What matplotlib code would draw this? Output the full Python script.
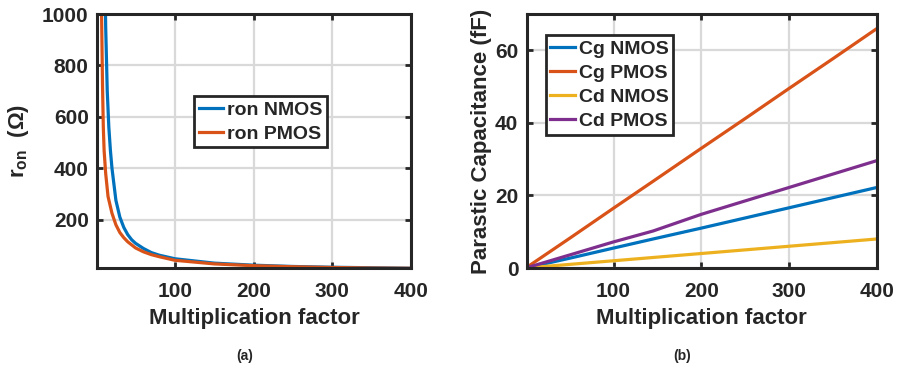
import numpy as np
import matplotlib
matplotlib.use('Agg')
import matplotlib.pyplot as plt

plt.rcParams['font.family'] = ['Liberation Sans', 'DejaVu Sans']
plt.rcParams['font.weight'] = 'bold'
plt.rcParams['mathtext.fontset'] = 'custom'
plt.rcParams['mathtext.rm'] = 'Liberation Sans:bold'
plt.rcParams['mathtext.bf'] = 'Liberation Sans:bold'
plt.rcParams['mathtext.it'] = 'Liberation Serif:italic'

# (a) on-resistance vs multiplication factor
m_nmos = [10, 12, 14, 16, 18, 20, 25, 30, 35, 40, 45, 50, 60, 70, 80, 100, 150, 200, 250, 300, 350, 400]
ron_nmos = [1400, 950, 700, 560, 470, 400, 275, 210, 170, 142, 122, 108, 88, 72, 62, 48, 31, 23, 18, 15, 13, 11]
m_pmos = [5, 7, 8, 9, 10, 12, 15, 20, 25, 30, 35, 40, 50, 60, 70, 80, 100, 150, 200, 250, 300, 350, 400]
ron_pmos = [1400, 950, 720, 560, 470, 380, 290, 225, 180, 150, 130, 114, 90, 75, 64, 56, 42, 28, 21, 17, 14, 12, 11]

# (b) parasitic capacitance vs multiplication factor
m_cap = [1, 50, 100, 145, 200, 250, 300, 350, 400]
cg_nmos = [0.05, 2.7, 5.5, 8.0, 11.0, 13.8, 16.6, 19.4, 22.2]
cg_pmos = [0.17, 8.2, 16.5, 23.9, 33.0, 41.2, 49.5, 57.7, 66.0]
cd_nmos = [0.02, 1.0, 2.0, 2.9, 4.0, 5.0, 6.0, 7.0, 8.0]
cd_pmos = [0.07, 3.6, 7.2, 10.2, 14.8, 18.5, 22.2, 25.9, 29.6]

BLUE, ORANGE, YELLOW, PURPLE = '#0072BD', '#D95319', '#EDB120', '#7E2F8E'
DARK = '#262626'


def style_axes(ax):
    for s in ax.spines.values():
        s.set_linewidth(2.2)
        s.set_color(DARK)
    ax.grid(True, color='#d9d9d9', linewidth=1.6)
    ax.set_axisbelow(True)
    ax.tick_params(direction='in', length=4, width=2, labelsize=15, pad=6,
                   top=True, right=True, colors=DARK)
    ax.tick_params(axis='x', pad=10)
    for lab in ax.get_xticklabels() + ax.get_yticklabels():
        lab.set_fontweight('bold')


def add_legend(ax, anchor):
    leg = ax.legend(loc='upper left', bbox_to_anchor=anchor, borderaxespad=0,
                    fontsize=14, handlelength=1.25, handletextpad=0.2, borderpad=0.25,
                    labelspacing=0.33, fancybox=False, framealpha=1)
    for t in leg.get_texts():
        t.set_fontweight('bold')
        t.set_color(DARK)
    fr = leg.get_frame()
    fr.set_edgecolor(DARK)
    fr.set_linewidth(2)
    fr.set_boxstyle('square', pad=0)
    return leg


fig = plt.figure(figsize=(9, 3.68), dpi=100)

ax1 = fig.add_axes([0.1078, 0.2717, 0.349, 0.690])
ax1.plot(m_nmos, ron_nmos, color=BLUE, lw=2.3, label='ron NMOS')
ax1.plot(m_pmos, ron_pmos, color=ORANGE, lw=2.3, label='ron PMOS')
ax1.set_xlim(1, 400)
ax1.set_ylim(12, 1000)
ax1.set_xticks([100, 200, 300, 400])
ax1.set_yticks([200, 400, 600, 800, 1000])
style_axes(ax1)
ax1.set_xlabel('Multiplication factor', fontsize=16, fontweight='bold', labelpad=5, color=DARK)
ax1.set_ylabel(r'r$_{\mathbf{on}}$  ($\mathit{\Omega}$)', fontsize=16, fontweight='bold',
               labelpad=8, color=DARK)
add_legend(ax1, (0.309, 0.677))

ax2 = fig.add_axes([0.5852, 0.2717, 0.389, 0.690])
ax2.plot(m_cap, cg_nmos, color=BLUE, lw=2.3, label='Cg NMOS')
ax2.plot(m_cap, cg_pmos, color=ORANGE, lw=2.3, label='Cg PMOS')
ax2.plot(m_cap, cd_nmos, color=YELLOW, lw=2.3, label='Cd NMOS')
ax2.plot(m_cap, cd_pmos, color=PURPLE, lw=2.3, label='Cd PMOS')
ax2.set_xlim(1, 400)
ax2.set_ylim(0, 70)
ax2.set_xticks([100, 200, 300, 400])
ax2.set_yticks([0, 20, 40, 60])
style_axes(ax2)
ax2.set_xlabel('Multiplication factor', fontsize=16, fontweight='bold', labelpad=5, color=DARK)
ax2.set_ylabel('Parastic Capacitance (fF)', fontsize=16, fontweight='bold', labelpad=2, color=DARK)
add_legend(ax2, (0.054, 0.917))

fig.text(245 / 900, 1 - 356 / 368, '(a)', ha='center', va='center', fontsize=10, fontweight='bold',
         color=DARK)
fig.text(682 / 900, 1 - 356 / 368, '(b)', ha='center', va='center', fontsize=10, fontweight='bold',
         color=DARK)

fig.savefig('out.png', dpi=100)
